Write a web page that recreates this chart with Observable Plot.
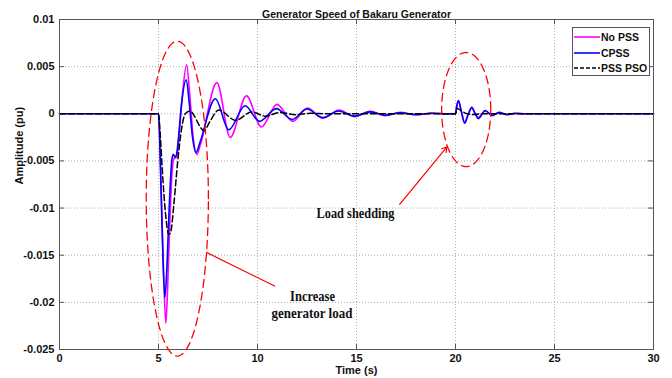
<!DOCTYPE html>
<html>
<head>
<meta charset="utf-8">
<script src="https://cdn.jsdelivr.net/npm/d3@7"></script>
<script src="https://cdn.jsdelivr.net/npm/@observablehq/plot@0.6"></script>
<style>
  body { margin: 0; background: #fff; }
  #wrap { position: relative; width: 672px; height: 378px; overflow: hidden; }
  #legend { position: absolute; left: 572px; top: 27px; width: 78px; height: 49px; border: 1px solid #555; background: #fff;
            font-family: "Liberation Sans", Arial, sans-serif; font-weight: bold; font-size: 10.5px; color: #111; box-sizing: border-box; }
  .item { position: absolute; left: 1px; height: 14px; display: flex; align-items: center; white-space: nowrap; }
  .item svg { width: 26px; height: 6px; margin-right: 1px; flex: none; }
</style>
</head>
<body>
<div id="wrap"></div>
<script>
// ---- data ----
const titleText = "Generator Speed of Bakaru Generator";
const xTicks = [0, 5, 10, 15, 20, 25, 30];
const yTicks = [0.01, 0.005, 0, -0.005, -0.01, -0.015, -0.02, -0.025];

const seriesNames = ["No PSS", "CPSS", "PSS PSO"];
const seriesColors = ["#ff00ff", "#0000ff", "#000000"];

// No PSS (time s, amplitude pu)
const noPssT = [0, 5.0, 5.06, 5.15, 5.25, 5.37, 5.46, 5.58, 5.7, 5.8, 5.92, 6.05, 6.2, 6.42, 6.58, 6.75, 6.94, 7.1, 7.95, 8.62, 9.44, 10.2, 10.98, 11.78, 12.52, 13.3, 14.12, 14.9, 15.68, 16.45, 17.2, 18.0, 18.8, 19.6, 20.0, 20.06, 20.15, 20.3, 20.46, 20.65, 20.82, 21.0, 21.15, 21.5, 21.85, 22.2, 22.6, 23.0, 23.5, 30];
const noPssV = [0, 0, -0.0025, -0.009, -0.0165, -0.0222, -0.0185, -0.011, -0.0058, -0.0047, -0.0046, -0.002, 0.0018, 0.0052, 0.002, -0.0025, -0.0043, -0.0034, 0.0033, -0.0025, 0.0019, -0.0014, 0.001, -0.0008, 0.0006, -0.00048, 0.0004, -0.0003, 0.00026, -0.0002, 0.00016, -0.00012, 0.00008, -0.00005, 0, 0.0007, 0.0013, 0.0002, -0.0009, 0, 0.0006, 0, -0.0004, 0.0003, -0.00015, 0.0001, -0.00006, 0.00003, 0, 0];

// CPSS
const cpssT = [0, 5.0, 5.05, 5.12, 5.2, 5.32, 5.42, 5.55, 5.67, 5.75, 5.83, 5.9, 6.0, 6.15, 6.4, 6.55, 6.72, 6.9, 7.1, 7.87, 8.55, 9.37, 10.1, 10.95, 11.75, 12.5, 13.3, 14.1, 14.9, 15.7, 16.45, 17.2, 18.0, 18.8, 19.6, 20.0, 20.06, 20.15, 20.3, 20.46, 20.65, 20.82, 21.0, 21.15, 21.5, 21.85, 22.2, 22.6, 23.0, 23.5, 30];
const cpssV = [0, 0, -0.002, -0.0075, -0.0135, -0.0195, -0.0165, -0.0095, -0.005, -0.0043, -0.0046, -0.0044, -0.0028, 0.0008, 0.0036, 0.0012, -0.0025, -0.0041, -0.003, 0.0016, -0.0017, 0.00085, -0.0008, 0.00055, -0.0006, 0.0005, -0.0004, 0.0003, -0.00025, 0.0002, -0.00015, 0.0001, -0.00008, 0.00005, 0, 0, 0.0008, 0.0014, 0.0002, -0.001, 0, 0.0007, 0, -0.0005, 0.00035, -0.0002, 0.00015, -0.0001, 0.00005, 0, 0];

// PSS PSO
const psoT = [0, 5.0, 5.08, 5.2, 5.35, 5.52, 5.62, 5.78, 5.95, 6.15, 6.35, 6.6, 6.8, 7.05, 7.3, 7.6, 8.05, 8.9, 9.7, 10.4, 11.15, 11.9, 12.7, 13.5, 20.0, 20.07, 20.3, 20.6, 20.9, 21.3, 30];
const psoV = [0, 0, -0.002, -0.0062, -0.0105, -0.0128, -0.0125, -0.0095, -0.0055, -0.0018, 0, 0.0003, -0.0002, -0.0012, -0.0018, -0.0008, 0.0004, -0.0007, 0.0002, -0.00025, 0.00015, -0.0001, 0.00005, 0, 0, 0.0006, 0.0003, 0, -0.00008, 0, 0];

// annotations (data space)
const ellipseCx = [5.95, 20.54];
const ellipseCy = [-0.009, 0.00045];
const ellipseRx = [1.57, 1.24];
const ellipseRy = [0.0167, 0.00605];
const noteLine = [{x1: 7.42, y1: -0.0147, x2: 10.89, y2: -0.0183}];
const noteArrow = [{x1: 17.18, y1: -0.0096, x2: 19.57, y2: -0.0035}];
const noteTexts = ["Increase", "generator load", "Load shedding"];
const noteX = [12.78, 12.75, 14.95];
const noteY = [-0.0193, -0.0211, -0.0105];
const noteAnchor = ["middle", "middle", "start"];
const noteWidth = [45, 81, 78];

// ---- build ----
const toRows = (T, V, s) => T.map((t, i) => ({t, v: V[i], s}));
const rows = [
  ...toRows(noPssT, noPssV, seriesNames[0]),
  ...toRows(cpssT, cpssV, seriesNames[1]),
  ...toRows(psoT, psoV, seriesNames[2])
];
const ellipses = [];
ellipseCx.forEach((cx, k) => {
  for (let i = 0; i <= 120; i++) {
    const a = (i / 120) * 2 * Math.PI;
    ellipses.push({k, x: cx + ellipseRx[k] * Math.cos(a), y: ellipseCy[k] + ellipseRy[k] * Math.sin(a)});
  }
});
const notes = noteTexts.map((text, i) => ({text, x: noteX[i], y: noteY[i], a: noteAnchor[i]}));

const W = 672, H = 378, ML = 59, MR = 19, MT = 19, MB = 29;
const PW = W - ML - MR, PH = H - MT - MB;
const sans = "'Liberation Sans', Arial, sans-serif";

const chart = Plot.plot({
  width: W, height: H,
  marginLeft: ML, marginRight: MR, marginTop: MT, marginBottom: MB,
  style: {fontFamily: sans, fontSize: "11px", fontWeight: "bold", color: "#111", background: "#fff"},
  x: {domain: [0, 30]},
  y: {domain: [-0.025, 0.01]},
  marks: [
    // dotted grid
    Plot.ruleX(xTicks.slice(1, -1), {x: d => d, stroke: "#999", strokeDasharray: "1,2", strokeWidth: 0.8}),
    Plot.ruleY(yTicks.slice(1, -1), {y: d => d, stroke: "#999", strokeDasharray: "1,2", strokeWidth: 0.8}),
    // inward ticks on all sides
    Plot.ruleX(xTicks, {x: d => d, insetTop: PH - 5, stroke: "#555"}),
    Plot.ruleX(xTicks, {x: d => d, insetBottom: PH - 5, stroke: "#555"}),
    Plot.ruleY(yTicks, {y: d => d, insetRight: PW - 5, stroke: "#555"}),
    Plot.ruleY(yTicks, {y: d => d, insetLeft: PW - 5, stroke: "#555"}),
    Plot.axisX({ticks: xTicks, tickSize: 0, tickPadding: 5, tickFormat: d => String(d), label: null, fontWeight: "bold"}),
    Plot.axisY({ticks: yTicks, tickSize: 0, tickPadding: 5, tickFormat: d => String(d), label: null, fontWeight: "bold"}),
    // series
    Plot.line(rows.filter(d => d.s === seriesNames[0]), {x: "t", y: "v", stroke: seriesColors[0], strokeWidth: 1.6, curve: "monotone-x"}),
    Plot.line(rows.filter(d => d.s === seriesNames[1]), {x: "t", y: "v", stroke: seriesColors[1], strokeWidth: 1.6, curve: "monotone-x"}),
    Plot.line(rows.filter(d => d.s === seriesNames[2]), {x: "t", y: "v", stroke: seriesColors[2], strokeWidth: 1.5, strokeDasharray: "6,3", curve: "monotone-x"}),
    Plot.frame({stroke: "#555"}),
    // annotations
    Plot.line(ellipses, {x: "x", y: "y", z: "k", stroke: "#ff0000", strokeWidth: 1.3, strokeDasharray: "8,5", curve: "linear"}),
    Plot.link(noteLine, {x1: "x1", y1: "y1", x2: "x2", y2: "y2", stroke: "#ff0000", strokeWidth: 1.2}),
    Plot.arrow(noteArrow, {x1: "x1", y1: "y1", x2: "x2", y2: "y2", stroke: "#ff0000", strokeWidth: 1.2, headLength: 7, bend: 0}),
    Plot.text(notes, {x: "x", y: "y", text: "text", textAnchor: d => d.a, fontFamily: "'Liberation Serif', 'Times New Roman', serif", fontSize: 15, fontWeight: "bold", fill: "#111", className: "note"}),
    // titles
    Plot.text([titleText], {frameAnchor: "top", dy: -9, fontSize: 10.5, fontWeight: "bold", fill: "#111"}),
    Plot.text(["Time (s)"], {frameAnchor: "bottom", dy: 24, fontSize: 11, fontWeight: "bold", fill: "#111"}),
    Plot.text(["Amplitude (pu)"], {frameAnchor: "left", dx: -40, rotate: -90, fontSize: 11, fontWeight: "bold", fill: "#111"})
  ]
});
// condense the serif annotation texts like the reference
d3.select(chart).selectAll("text").each(function () {
  const i = noteTexts.indexOf(this.textContent);
  if (i >= 0) { this.setAttribute("textLength", noteWidth[i]); this.setAttribute("lengthAdjust", "spacingAndGlyphs"); }
});
const wrap = document.getElementById("wrap");
wrap.appendChild(chart);

// legend overlay
const legend = document.createElement("div");
legend.id = "legend";
const dashes = [null, null, "4,2"];
seriesNames.forEach((name, i) => {
  const it = document.createElement("div");
  it.className = "item";
  it.style.top = (2 + i * 15.5) + "px";
  it.innerHTML = `<svg viewBox="0 0 26 6"><line x1="0" x2="26" y1="3" y2="3" stroke="${seriesColors[i]}" stroke-width="1.6" ${dashes[i] ? `stroke-dasharray="${dashes[i]}"` : ""}/></svg><span>${name}</span>`;
  legend.appendChild(it);
});
wrap.appendChild(legend);
</script>
</body>
</html>
